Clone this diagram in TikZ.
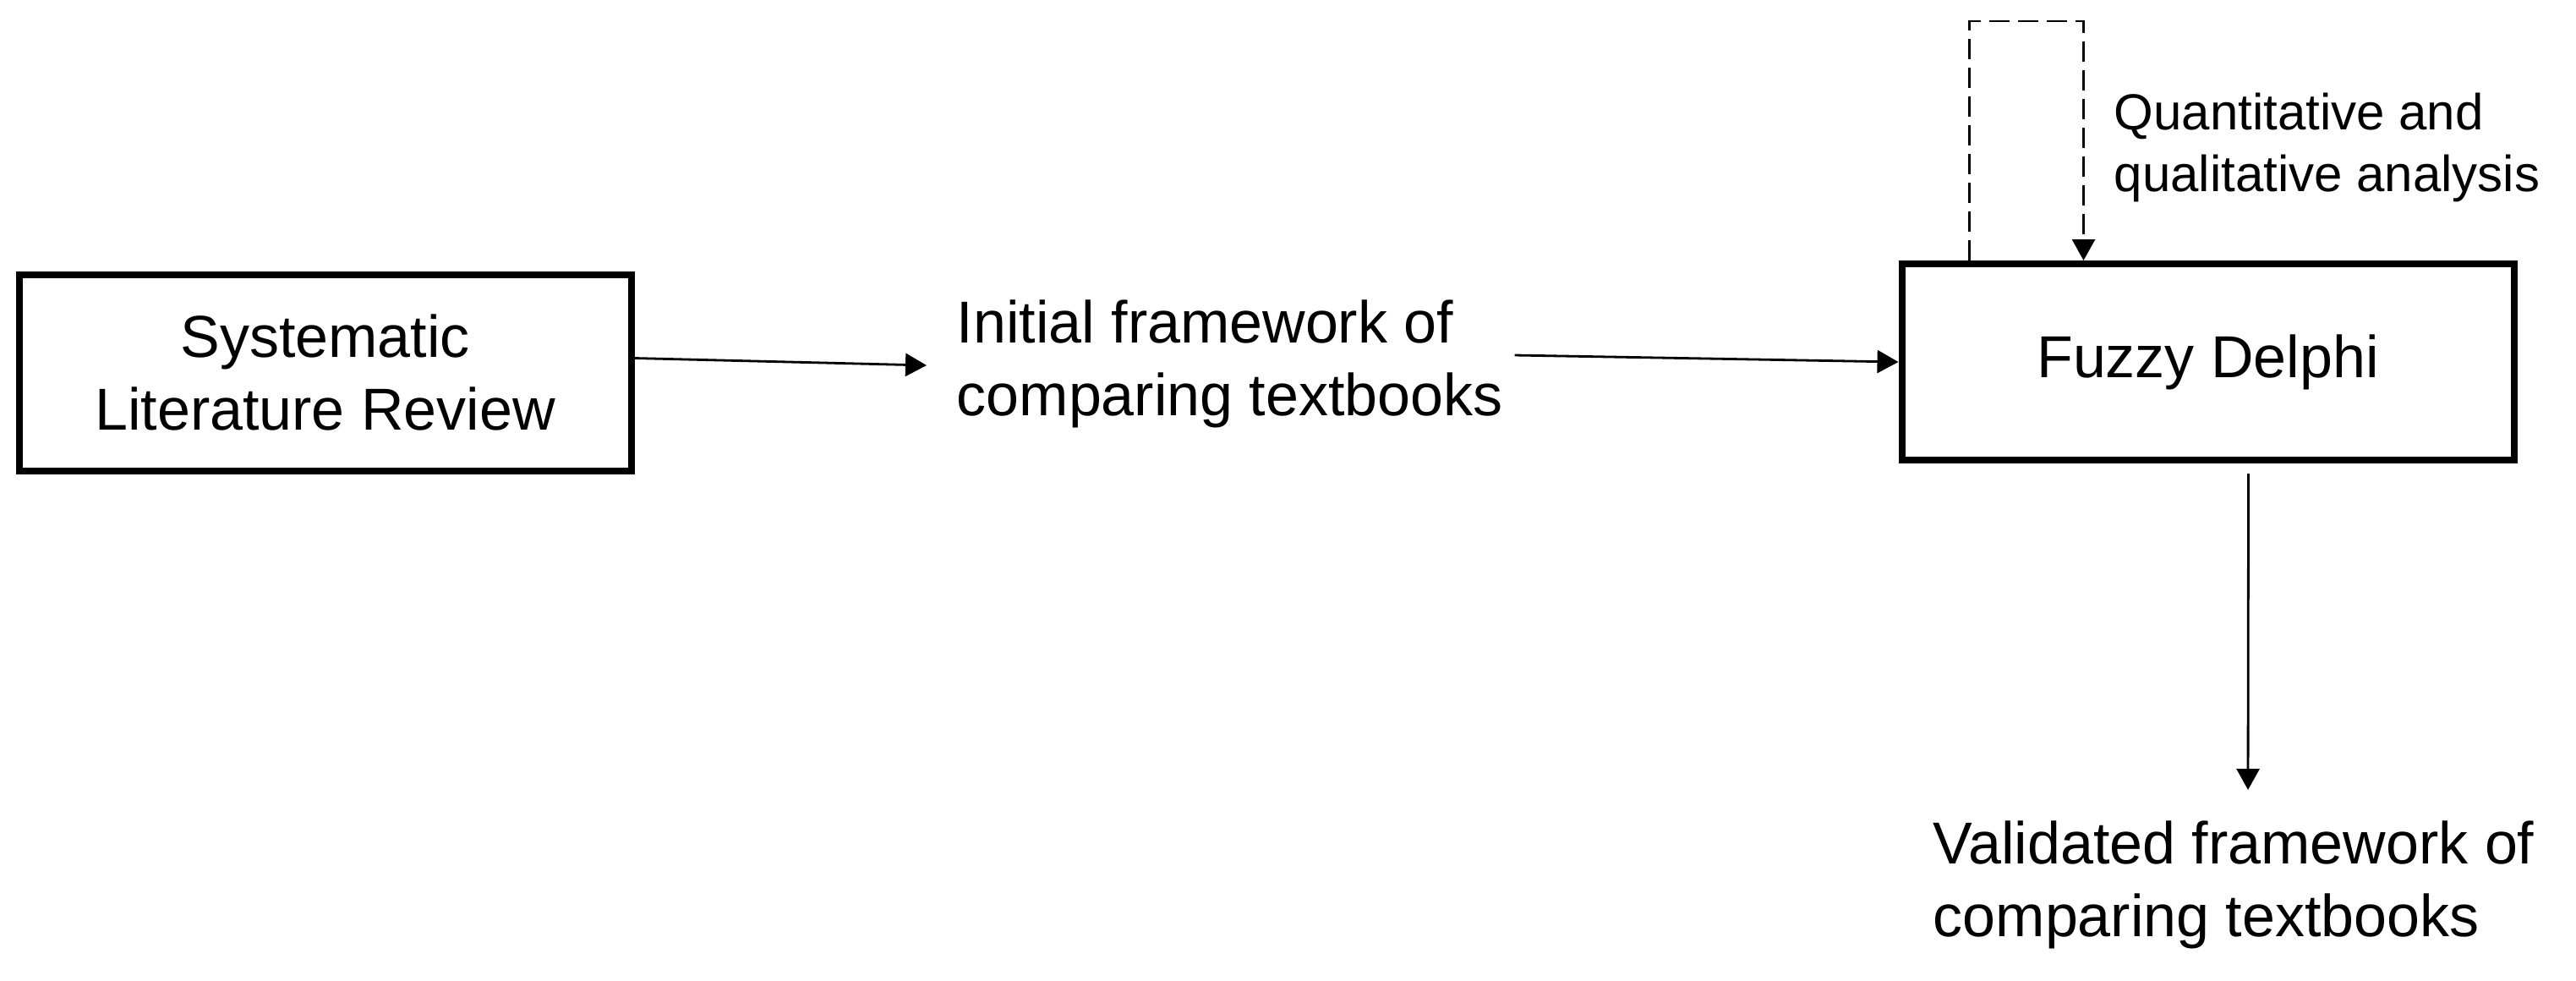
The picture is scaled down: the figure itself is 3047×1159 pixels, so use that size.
\documentclass[tikz,border=0pt]{standalone}
\usepackage{fontspec}
\setmainfont{Liberation Sans}
\usetikzlibrary{arrows.meta}

\newcommand{\mainsize}{\fontsize{17.5}{21.5}\selectfont}
\newcommand{\notesize}{\fontsize{15}{18.25}\selectfont}

\begin{document}
\begin{tikzpicture}[x=0.25pt,y=0.25pt,yscale=-1,xscale=1,
  stagebox/.style={draw, line width=2pt, minimum width=181pt, minimum height=58pt, align=center, inner sep=0pt, font=\mainsize},
  flowtext/.style={align=left, inner sep=0pt, font=\mainsize},
  notetext/.style={align=left, inner sep=0pt, font=\notesize},
  flow/.style={line width=0.7pt, -{Triangle[length=6.25pt,width=6.75pt]}},
  loopline/.style={flow, dash pattern={on 6pt off 2.5pt}}]
\useasboundingbox (0,0) rectangle (3047,1159);

% Boxes
\node [stagebox] (slr) at (384.5,440.5) {Systematic\\Literature Review};
\node [stagebox] (fd) at (2611.5,428) {\raisebox{-1.5pt}{Fuzzy Delphi}};

% Text Node
\node [flowtext, anchor=west] (init) at (1131,430) {Initial framework of\\comparing textbooks};
% Text Node
\node [flowtext, anchor=north west] (valid) at (2286,970) {Validated framework of\\comparing textbooks};
% Text Node
\node [notetext, anchor=north west] (qual) at (2500,109) {Quantitative and\\qualitative analysis};

\coordinate (validtop) at (2659,934);

% Arrows
\draw [flow] ([yshift=-4.25pt]slr.east) -- ([xshift=-8.75pt,yshift=0.5pt]init.west);
\draw [flow] ([xshift=3.25pt,yshift=-2.5pt]init.east) -- (fd.west);
\draw [loopline] ([xshift=21pt]fd.north west) -- ++(0,-283) -| ([xshift=54.75pt]fd.north west);
\draw [flow] ([xshift=12pt,yshift=3pt]fd.south) -- (validtop);

\end{tikzpicture}
\end{document}
